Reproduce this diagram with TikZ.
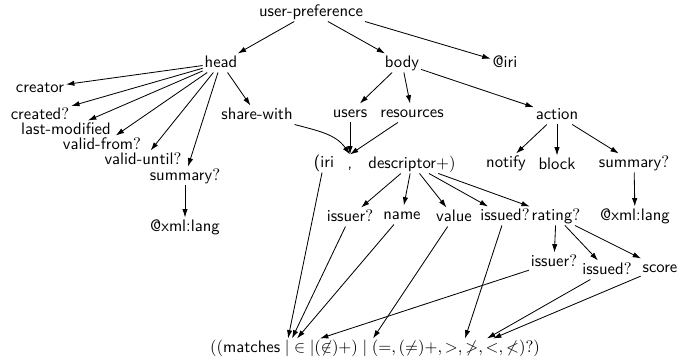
\documentclass[tikz,border=0pt]{standalone}
\usetikzlibrary{arrows.meta,calc}
\begin{document}
\begin{tikzpicture}[x=0.6pt,y=-0.6pt,
  lbl/.style={font=\sffamily,inner sep=1pt,text height=7pt,text depth=2pt},
  arr/.style={-{Latex[length=5pt,width=3.2pt]},line width=0.5pt}]
\useasboundingbox (0,0) rectangle (699,362);

% top levels
\node[lbl] (up)      at (311,12)  {user-preference};
\node[lbl] (head)    at (221,63)  {head};
\node[lbl] (body)    at (402,63)  {body};
\node[lbl] (atiri)   at (505,63)  {@iri};

% children of head
\node[lbl] (creator) at (40,88)   {creator};
\node[lbl] (created) at (40,115)  {created$?$};
\node[lbl] (lastmod) at (66,130)  {last-modified};
\node[lbl] (vfrom)   at (102,145) {valid-from$?$};
\node[lbl] (vuntil)  at (143,160) {valid-until$?$};
\node[lbl] (summa)   at (185,176) {summary$?$};
\node[lbl] (xmla)    at (185,227) {@xml:lang};
\node[lbl] (share)   at (257,115) {share-with};

% children of body
\node[lbl] (users)   at (350,113) {users};
\node[lbl] (res)     at (412,113) {resources};
\node[lbl] (action)  at (557,115) {action};

% resource description
\node[lbl] (iri)     at (324,163) {(iri};
\node[lbl] (comma)   at (350,164) {,};
\node[lbl] (desc)    at (412,164) {descriptor$+)$};

% children of action
\node[lbl] (notify)  at (506,163) {notify};
\node[lbl] (block)   at (557,165) {block};
\node[lbl] (summb)   at (634,163) {summary$?$};
\node[lbl] (xmlb)    at (635,216) {@xml:lang};

% children of descriptor
\node[lbl] (issa)    at (350,217) {issuer$?$};
\node[lbl] (name)    at (402,215) {name};
\node[lbl] (value)   at (454,217) {value};
\node[lbl] (issda)   at (505,216) {issued$?$};
\node[lbl] (rating)  at (556,216) {rating$?$};

% children of rating
\node[lbl] (issb)    at (554,262) {issuer$?$};
\node[lbl] (issdb)   at (607,270) {issued$?$};
\node[lbl] (score)   at (660,268) {score};

% match expression
\node[lbl] (expr) at (375,348)
  {$(($matches$\;|\in|(\not\in)+)\mid(=,(\neq)+,>,\not>,<,\not<)?)$};
\coordinate (t1) at ($(expr.north)+(-87,0)$);
\coordinate (t2) at ($(expr.north)+(-83,0)$);
\coordinate (t3) at ($(expr.north)+(-78,0)$);
\coordinate (t4) at ($(expr.north)+(-55,0)$);
\coordinate (t5) at ($(expr.north)+(-2,0)$);
\coordinate (t6) at ($(expr.north)+(90,0)$);
\coordinate (t7) at ($(expr.north)+(112,0)$);
\coordinate (t8) at ($(expr.north)+(118,0)$);

% edges
\draw[arr] (up) -- (head);
\draw[arr] (up) -- (body);
\draw[arr] (up.south east) -- (atiri);
\foreach \c in {creator,created,lastmod,vfrom,vuntil,summa,share}
  \draw[arr] (head) -- (\c);
\draw[arr] (summa) -- (xmla);
\foreach \c in {users,res,action}
  \draw[arr] (body) -- (\c);
\draw[arr] (share.south east) to[out=-15,in=125] (comma.north);
\draw[arr] (users) -- (comma.north);
\draw[arr] (res) -- (comma.north);
\foreach \c in {notify,block,summb}
  \draw[arr] (action) -- (\c);
\draw[arr] (summb) -- (xmlb);
\foreach \c in {issa,name,value,issda,rating}
  \draw[arr] (desc) -- (\c);
\foreach \c in {issb,issdb,score}
  \draw[arr] (rating) -- (\c);
\draw[arr] (iri) -- (t1);
\draw[arr] (issa) -- (t2);
\draw[arr] (name) -- (t3);
\draw[arr] (issb) -- (t4);
\draw[arr] (value) -- (t5);
\draw[arr] (issda) -- (t6);
\draw[arr] (issdb) -- (t7);
\draw[arr] (score) -- (t8);
\end{tikzpicture}
\end{document}
